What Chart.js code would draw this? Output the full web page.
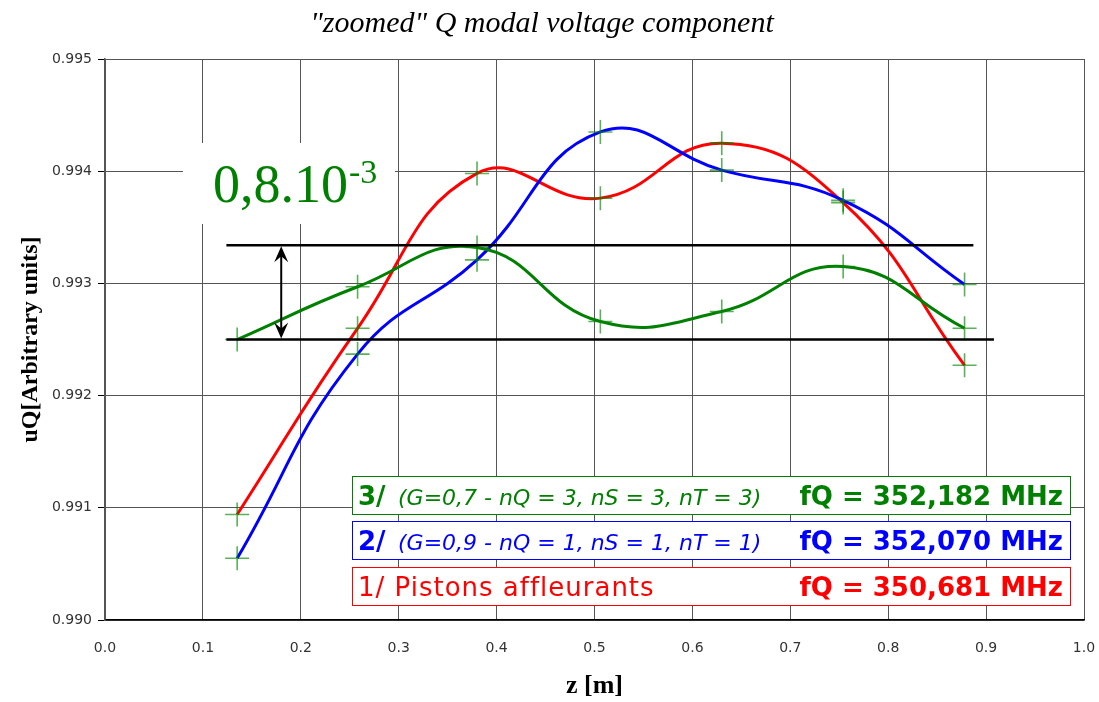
<!DOCTYPE html>
<html>
<head>
<meta charset="utf-8">
<script src="https://cdn.jsdelivr.net/npm/chart.js@4/dist/chart.umd.min.js"></script>
<style>
  html, body { margin: 0; padding: 0; background: #fff; }
  #wrap { width: 1099px; height: 702px; }
</style>
</head>
<body>
<div id="wrap"><canvas id="chart" width="1099" height="702"></canvas></div>
<script>
// Positions along the cavity [m] and measured Q voltage component
const zPositions = [0.135, 0.258, 0.380, 0.506, 0.630, 0.754, 0.878];
const uqPistons  = [0.99094, 0.99260, 0.99398, 0.99376, 0.99425, 0.99372, 0.99227];
const uqCase2    = [0.99055, 0.99237, 0.99321, 0.99435, 0.99401, 0.99374, 0.99299];
const uqCase3    = [0.99250, 0.99297, 0.99332, 0.99266, 0.99275, 0.99315, 0.99260];

// Flatness band drawn on top of case 3
const bandUpper = 0.99334;
const bandLower = 0.99250;
const bandUpperZ = [0.124, 0.887];
const bandLowerZ = [0.124, 0.908];
const arrowZ = 0.180;
const bandLabel = '0,8.10';
const bandExponent = '-3';

// Axis ticks
const xTicks = [0.0, 0.1, 0.2, 0.3, 0.4, 0.5, 0.6, 0.7, 0.8, 0.9, 1.0];
const yTicks = [0.990, 0.991, 0.992, 0.993, 0.994, 0.995];

// Legend rows (top to bottom)
const legendNums   = ['3/', '2/', '1/'];
const legendParams = ['(G=0,7 - nQ = 3, nS = 3, nT = 3)', '(G=0,9 - nQ = 1, nS = 1, nT = 1)', 'Pistons affleurants'];
const legendFreqs  = ['fQ = 352,182 MHz', 'fQ = 352,070 MHz', 'fQ = 350,681 MHz'];
const legendColors = ['#008000', '#0000ff', '#ff0000'];

const toPoints = (xs, ys) => xs.map((x, i) => ({ x: x, y: ys[i] }));

function seriesDataset(values, color, order) {
    return {
        data: toPoints(zPositions, values),
        borderColor: color,
        borderWidth: 3,
        tension: 0.45,
        pointStyle: 'cross',
        pointRadius: 12,
        pointBorderWidth: 1.6,
        pointBorderColor: 'rgba(0, 135, 0, 0.65)',
        pointBackgroundColor: 'rgba(0, 135, 0, 0.65)',
        order: order
    };
}

function bandDataset(zs, y) {
    return {
        data: zs.map(z => ({ x: z, y: y })),
        borderColor: '#000',
        borderWidth: 2.5,
        pointRadius: 0,
        tension: 0,
        order: 0
    };
}

// Draws the white label box, the double arrow and the text legend boxes
const annotations = {
    id: 'annotations',
    beforeDatasetsDraw(chart) {
        const ctx = chart.ctx;
        ctx.save();
        ctx.fillStyle = '#fff';
        ctx.fillRect(183, 143, 212, 81);
        ctx.fillStyle = '#008000';
        ctx.textBaseline = 'alphabetic';
        ctx.font = '54px "Liberation Serif"';
        ctx.fillText(bandLabel, 213, 202);
        const w = ctx.measureText(bandLabel).width;
        ctx.font = '34px "Liberation Serif"';
        ctx.fillText(bandExponent, 213 + w + 1, 183);
        ctx.restore();
    },
    afterDatasetsDraw(chart) {
        const ctx = chart.ctx;
        const xs = chart.scales.x, ys = chart.scales.y;
        const ax = xs.getPixelForValue(arrowZ);
        const y0 = ys.getPixelForValue(bandUpper) + 1;
        const y1 = ys.getPixelForValue(bandLower) - 1;
        ctx.save();
        ctx.strokeStyle = '#000';
        ctx.fillStyle = '#000';
        ctx.lineWidth = 2;
        ctx.beginPath();
        ctx.moveTo(ax, y0 + 6);
        ctx.lineTo(ax, y1 - 6);
        ctx.stroke();
        [[y0, 1], [y1, -1]].forEach(([tip, dir]) => {
            ctx.beginPath();
            ctx.moveTo(ax, tip);
            ctx.lineTo(ax - 7, tip + dir * 16);
            ctx.lineTo(ax, tip + dir * 10);
            ctx.lineTo(ax + 7, tip + dir * 16);
            ctx.closePath();
            ctx.fill();
        });

        // legend boxes
        const tops = [476, 521, 567];
        legendNums.forEach((num, i) => {
            const top = tops[i];
            ctx.fillStyle = '#fff';
            ctx.fillRect(352, top, 718, 38);
            ctx.strokeStyle = legendColors[i];
            ctx.lineWidth = 1;
            ctx.strokeRect(352.5, top + 0.5, 718, 38);
            ctx.fillStyle = legendColors[i];
            ctx.textBaseline = 'alphabetic';
            ctx.textAlign = 'left';
            const base = top + 29;
            if (i < 2) {
                ctx.font = 'bold 26px "DejaVu Sans"';
                ctx.fillText(num, 358, base);
                ctx.font = 'italic 22px "DejaVu Sans"';
                ctx.fillText(legendParams[i], 398, base);
            } else {
                ctx.font = '26px "DejaVu Sans"';
                ctx.letterSpacing = '1px';
                ctx.fillText(num + ' ' + legendParams[i], 358, base);
                ctx.letterSpacing = '0px';
            }
            ctx.font = 'bold 26px "DejaVu Sans"';
            ctx.textAlign = 'right';
            ctx.fillText(legendFreqs[i], 1063, base);
        });
        ctx.restore();
    }
};

new Chart(document.getElementById('chart'), {
    type: 'line',
    data: {
        datasets: [
            bandDataset(bandUpperZ, bandUpper),
            bandDataset(bandLowerZ, bandLower),
            seriesDataset(uqCase3, '#008000', 1),
            seriesDataset(uqCase2, '#0000ff', 2),
            seriesDataset(uqPistons, '#ff0000', 3)
        ]
    },
    options: {
        responsive: false,
        animation: false,
        layout: { padding: { left: 0, right: 15, top: 0, bottom: 0 } },
        plugins: {
            legend: { display: false },
            tooltip: { enabled: false },
            title: {
                display: true,
                text: '"zoomed" Q modal voltage component',
                color: '#000',
                font: { family: '"Liberation Serif"', size: 30, style: 'italic', weight: 'normal' },
                padding: { top: 6, bottom: 17 }
            }
        },
        scales: {
            x: {
                type: 'linear',
                min: 0, max: 1,
                afterBuildTicks(scale) { scale.ticks = xTicks.map(v => ({ value: v })); },
                afterFit(scale) { scale.height = 82; },
                ticks: {
                    color: '#333',
                    font: { family: '"DejaVu Sans"', size: 14 },
                    padding: 2,
                    maxRotation: 0,
                    callback: v => v.toFixed(1)
                },
                grid: { color: '#555', lineWidth: 1, tickLength: 18, tickColor: 'rgba(0,0,0,0)' },
                border: { color: '#000', width: 1.5 },
                title: {
                    display: true,
                    text: 'z [m]',
                    color: '#000',
                    font: { family: '"Liberation Serif"', size: 26, weight: 'bold' },
                    padding: { top: 0, bottom: 0 }
                }
            },
            y: {
                type: 'linear',
                min: 0.990, max: 0.995,
                afterBuildTicks(scale) { scale.ticks = yTicks.map(v => ({ value: v })); },
                afterFit(scale) { scale.width = 105; },
                ticks: {
                    color: '#333',
                    font: { family: '"DejaVu Sans"', size: 14 },
                    padding: 6,
                    callback: v => v.toFixed(3)
                },
                grid: { color: '#555', lineWidth: 1, tickLength: 7, tickColor: '#000' },
                border: { color: '#555', width: 1.5 },
                title: {
                    display: true,
                    text: 'uQ[Arbitrary units]',
                    color: '#000',
                    font: { family: '"Liberation Serif"', size: 24, weight: 'bold' },
                    padding: { top: 16, bottom: 0 }
                }
            }
        }
    },
    plugins: [annotations]
});
</script>
</body>
</html>
